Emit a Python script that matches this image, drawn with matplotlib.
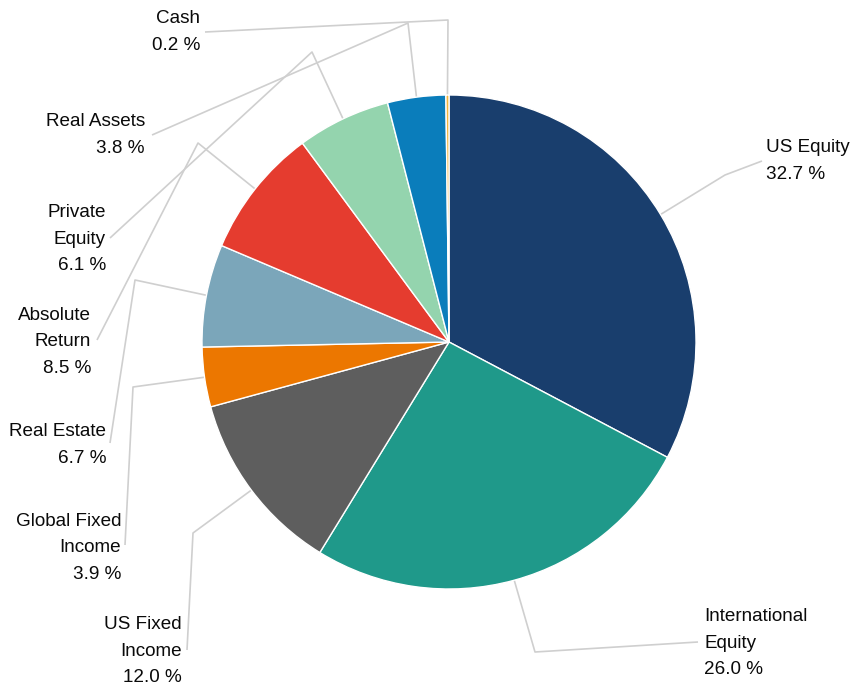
import numpy as np
import matplotlib
matplotlib.use("Agg")
import matplotlib.pyplot as plt

categories = ["US Equity", "International\nEquity", "US Fixed\nIncome", "Global Fixed\nIncome",
              "Real Estate", "Absolute\nReturn", "Private\nEquity", "Real Assets", "Cash"]
values = [32.7, 26.0, 12.0, 3.9, 6.7, 8.5, 6.1, 3.8, 0.2]
colors = ["#193e6d", "#1f998a", "#5e5e5e", "#ec7700", "#7ba6ba",
          "#e53c2f", "#94d4ae", "#0a7dbb", "#f2b53c"]

W, H = 852, 690
CX, CY, R = 449, 342, 247  # pixel layout (y down)

# label layout in pixels (y down): elbow point, line end, text anchor, alignment
layout = [
    ((725, 175), (762, 161), (766, 161), "left"),
    ((535, 652), (698, 642), (704, 643), "left"),
    ((193, 533), (187, 650), (182, 651), "right"),
    ((133, 387), (125, 545), (121, 548), "right"),
    ((135, 280), (110, 443), (106, 445), "right"),
    ((198, 143), (97, 340), (91, 342), "right"),
    ((312, 52), (110, 238), (106, 239), "right"),
    ((408, 23), (152, 135), (145, 135), "right"),
    ((448, 20), (205, 32), (200, 32), "right"),
]

fig = plt.figure(figsize=(W / 100, H / 100), dpi=100)
ax = fig.add_axes([0, 0, 1, 1])

def fy(y):
    return H - y

wedges, _ = ax.pie(values, colors=colors, startangle=90, counterclock=False,
                   center=(CX, fy(CY)), radius=R, frame=True,
                   wedgeprops=dict(edgecolor="white", linewidth=1.0))
ax.set_xlim(0, W)
ax.set_ylim(0, H)
ax.set_aspect("equal")
ax.axis("off")

line_color = "#cfcfcf"
for w, cat, val, (elbow, end, txt, ha) in zip(wedges, categories, values, layout):
    ang = np.deg2rad((w.theta1 + w.theta2) / 2)
    ax_pt = (CX + R * np.cos(ang), fy(CY) + R * np.sin(ang))
    xs = [ax_pt[0], elbow[0], end[0]]
    ys = [ax_pt[1], fy(elbow[1]), fy(end[1])]
    ax.plot(xs, ys, color=line_color, lw=1.2, solid_capstyle="butt", zorder=0)
    ax.text(txt[0], fy(txt[1]), f"{cat}\n{val:.1f} %", ha=ha, va="center",
            multialignment=ha, fontsize=13.6, linespacing=1.7,
            family=["Liberation Sans", "DejaVu Sans"],
            color="#0a0a0a")

fig.savefig("out.png", dpi=100)
